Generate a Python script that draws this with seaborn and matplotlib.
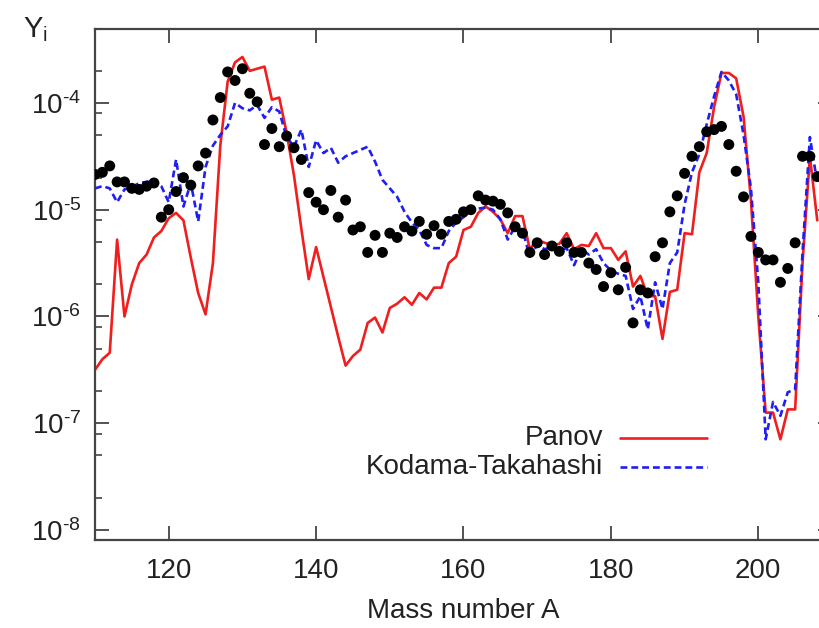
import numpy as np
import pandas as pd
import matplotlib
matplotlib.use("Agg")
import matplotlib.pyplot as plt
from matplotlib.ticker import FixedLocator, NullFormatter, FuncFormatter
import seaborn as sns

# Mass numbers for the model curves and the solar r-process points
mass_number = np.arange(110, 209)

# log10 of the abundances Y_i
panov_log = [
    -6.50, -6.40, -6.34, -5.28, -6.00, -5.70, -5.50, -5.42, -5.26, -5.20,   # 110-119
    -5.08, -5.03, -5.10, -5.45, -5.78, -5.98, -5.50, -4.40, -3.80, -3.62,   # 120-129
    -3.57, -3.70, -3.68, -3.66, -3.97, -3.95, -4.28, -4.68, -5.18, -5.65,   # 130-139
    -5.35, -5.63, -5.91, -6.19, -6.46, -6.37, -6.31, -6.06, -6.01, -6.15,   # 140-149
    -5.92, -5.88, -5.82, -5.89, -5.78, -5.84, -5.73, -5.73, -5.50, -5.44,   # 150-159
    -5.19, -5.16, -5.03, -4.97, -5.02, -5.09, -5.22, -5.06, -5.06, -5.37,   # 160-169
    -5.28, -5.31, -5.33, -5.32, -5.22, -5.37, -5.33, -5.34, -5.22, -5.36,   # 170-179
    -5.36, -5.47, -5.39, -5.72, -5.62, -5.81, -5.81, -6.21, -5.77, -5.75,   # 180-189
    -5.22, -5.23, -4.65, -4.47, -4.04, -3.72, -3.72, -3.77, -4.13, -4.91,   # 190-199
    -6.00, -6.90, -6.90, -7.15, -6.87, -6.87, -5.50, -4.50, -5.10,          # 200-208
]

kodama_takahashi_log = [
    -4.80, -4.78, -4.80, -4.93, -4.81, -4.79, -4.75, -4.74, -4.72, -4.78,   # 110-119
    -4.93, -4.53, -4.97, -4.75, -5.11, -4.60, -4.40, -4.30, -4.22, -4.00,   # 120-129
    -4.05, -4.07, -4.02, -4.14, -4.04, -4.08, -4.32, -4.41, -4.25, -4.60,   # 130-139
    -4.35, -4.47, -4.42, -4.56, -4.50, -4.47, -4.44, -4.41, -4.55, -4.72,   # 140-149
    -4.80, -4.88, -5.02, -5.12, -5.19, -5.33, -5.36, -5.36, -5.20, -5.12,   # 150-159
    -5.07, -5.02, -4.99, -4.98, -5.00, -5.09, -5.28, -5.16, -5.19, -5.44,   # 160-169
    -5.33, -5.37, -5.35, -5.38, -5.36, -5.52, -5.37, -5.42, -5.37, -5.50,   # 170-179
    -5.57, -5.60, -5.62, -5.93, -5.81, -6.12, -5.68, -5.93, -5.50, -5.40,   # 180-189
    -4.95, -4.65, -4.48, -4.20, -3.94, -3.71, -3.79, -3.92, -4.30, -4.80,   # 190-199
    -5.68, -7.15, -6.80, -6.93, -6.71, -6.68, -5.40, -4.32, -4.75,          # 200-208
]

solar_log = [
    -4.67, -4.65, -4.59, -4.74, -4.74, -4.80, -4.81, -4.78, -4.75, -5.07,   # 110-119
    -5.00, -4.83, -4.70, -4.77, -4.59, -4.47, -4.16, -3.95, -3.71, -3.79,   # 120-129
    -3.68, -3.91, -3.99, -4.39, -4.24, -4.41, -4.31, -4.42, -4.53, -4.84,   # 130-139
    -4.93, -5.00, -4.82, -5.07, -4.91, -5.19, -5.16, -5.40, -5.24, -5.40,   # 140-149
    -5.22, -5.26, -5.16, -5.20, -5.11, -5.23, -5.15, -5.23, -5.11, -5.09,   # 150-159
    -5.02, -5.00, -4.87, -4.91, -4.92, -4.95, -5.03, -5.16, -5.22, -5.40,   # 160-169
    -5.31, -5.42, -5.34, -5.39, -5.31, -5.40, -5.40, -5.50, -5.56, -5.72,   # 170-179
    -5.59, -5.75, -5.54, -6.06, -5.75, -5.78, -5.44, -5.31, -5.02, -4.87,   # 180-189
    -4.66, -4.50, -4.41, -4.27, -4.25, -4.22, -4.39, -4.64, -4.88, -5.25,   # 190-199
    -5.40, -5.47, -5.47, -5.68, -5.55, -5.31, -4.50, -4.50, -4.69,          # 200-208
]

x_ticks = [120, 140, 160, 180, 200]
y_decades = [-8, -7, -6, -5, -4]

df = pd.DataFrame({
    "A": mass_number,
    "Panov": 10.0 ** np.array(panov_log),
    "Kodama-Takahashi": 10.0 ** np.array(kodama_takahashi_log),
    "solar": 10.0 ** np.array(solar_log),
})

sns.set_theme(style="ticks")
plt.rcParams["font.family"] = ["Liberation Sans", "DejaVu Sans"]
plt.rcParams["mathtext.fontset"] = "custom"
plt.rcParams["mathtext.rm"] = "Liberation Sans"
plt.rcParams["mathtext.it"] = "Liberation Sans:italic"
plt.rcParams["mathtext.bf"] = "Liberation Sans:bold"
plt.rcParams["axes.unicode_minus"] = False

RED = "#f01e1e"
BLUE = "#1e1ef5"
TXT = "#222222"
SPINE = "#444444"
FS = 20
DASH = (2.6, 1.5)


def decade_label(v, pos):
    # plain hyphen in the exponent, as in the printed axis
    return "10$^{\\mathregular{\u2010%d}}$" % round(-np.log10(v))


fig = plt.figure(figsize=(8.2, 6.28), dpi=100)
ax = fig.add_axes([95 / 820, 1 - 540 / 628, (832 - 95) / 820, (540 - 29) / 628])

sns.lineplot(data=df, x="A", y="Panov", color=RED, linewidth=1.9, ax=ax, zorder=2)
sns.lineplot(data=df, x="A", y="Kodama-Takahashi", color=BLUE, linewidth=1.9,
             dashes=False, ax=ax, zorder=3)
ax.lines[-1].set_dashes(DASH)
sns.scatterplot(data=df, x="A", y="solar", color="black", s=62, edgecolor="none",
                ax=ax, zorder=4)

ax.set_yscale("log")
ax.set_xlim(110, 210)
ax.set_ylim(10 ** -8.093, 10 ** -3.308)
ax.set_xticks(x_ticks)
ax.set_xticklabels([str(t) for t in x_ticks])
ax.yaxis.set_major_locator(FixedLocator([10.0 ** e for e in y_decades]))
ax.yaxis.set_major_formatter(FuncFormatter(decade_label))
ax.yaxis.set_minor_locator(FixedLocator([m * 10.0 ** e for e in range(-9, -2) for m in (2, 5, 8)]))
ax.yaxis.set_minor_formatter(NullFormatter())
ax.xaxis.set_minor_locator(FixedLocator([]))

ax.tick_params(axis="both", which="major", direction="in", length=10, width=1.3,
               colors=SPINE, labelcolor=TXT, labelsize=FS, top=True, right=True)
ax.tick_params(axis="x", which="major", pad=13)
ax.tick_params(axis="y", which="major", pad=10)
ax.tick_params(axis="y", which="minor", direction="in", length=5, width=1.2,
               colors=SPINE, right=True)
for s in ax.spines.values():
    s.set_color(SPINE)
    s.set_linewidth(1.6)

ax.set_xlabel("Mass number A", fontsize=FS, color=TXT, labelpad=10)
ax.set_ylabel("")
fig.text(23 / 820, 1 - 37 / 628, r"Y$_{\rm i}$", fontsize=FS + 1, color=TXT, va="baseline")

# Key, with labels set flush right against the line samples
key = [("Panov", RED, None, 0.1996), ("Kodama-Takahashi", BLUE, DASH, 0.1435)]
for label, col, dash, yk in key:
    ax.text(0.689, yk, label, transform=ax.transAxes, ha="right", va="center",
            fontsize=FS, color=TXT)
    ln, = ax.plot([0.712, 0.830], [yk, yk], transform=ax.transAxes, color=col,
                  linewidth=1.9)
    if dash is not None:
        ln.set_dashes(dash)

fig.savefig("out.png", dpi=100)
